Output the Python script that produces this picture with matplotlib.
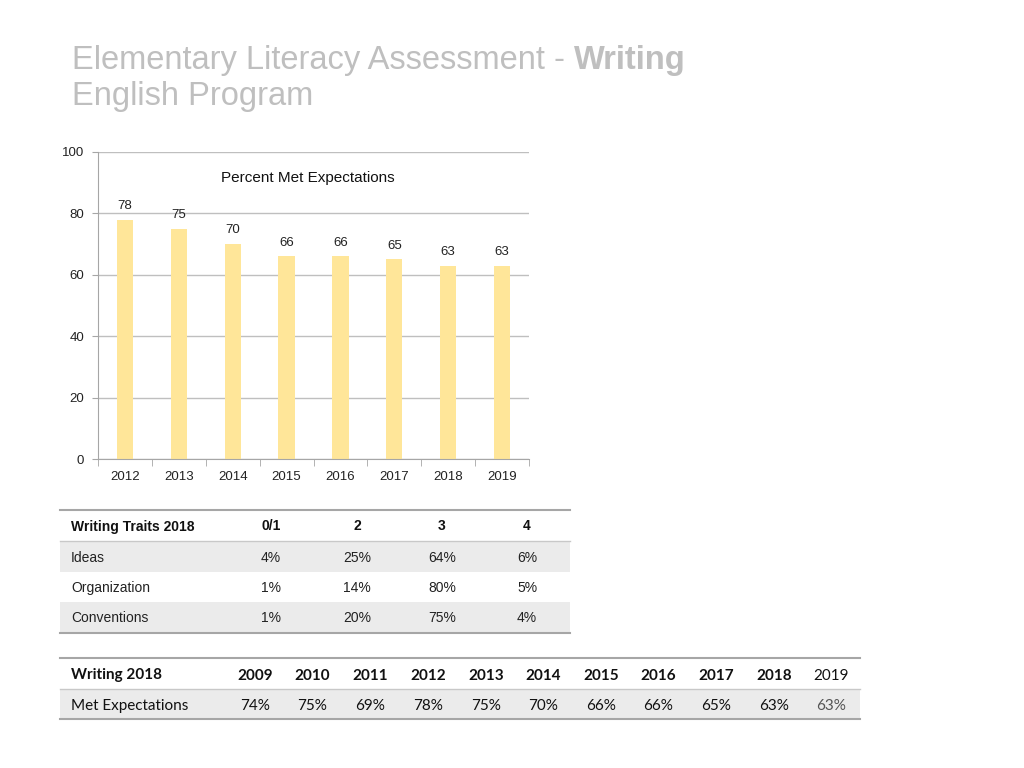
import matplotlib
matplotlib.use("Agg")
import numpy as np
from matplotlib import pyplot as plt
from matplotlib.patches import Rectangle
from matplotlib.lines import Line2D

years = ["2012", "2013", "2014", "2015", "2016", "2017", "2018", "2019"]
met = [78, 75, 70, 66, 66, 65, 63, 63]

trait_cols = ["0/1", "2", "3", "4"]
trait_rows = ["Ideas", "Organization", "Conventions"]
trait_vals = [["4%", "25%", "64%", "6%"],
              ["1%", "14%", "80%", "5%"],
              ["1%", "20%", "75%", "4%"]]

hist_years = ["2009", "2010", "2011", "2012", "2013", "2014", "2015", "2016", "2017", "2018", "2019"]
hist_vals = ["74%", "75%", "69%", "78%", "75%", "70%", "66%", "66%", "65%", "63%", "63%"]

W, H = 1024, 768
plt.rcParams['font.family'] = ['Liberation Sans', 'DejaVu Sans']
fig = plt.figure(figsize=(W / 100, H / 100), dpi=100)

def fx(x):
    return x / W

def fy(y):
    return 1 - y / H

# title
tsize = 23.5
t = fig.text(fx(72), fy(61), "Elementary Literacy Assessment - ", fontsize=tsize, color="#BFBFBF", va="center")
fig.canvas.draw()
bb = t.get_window_extent()
fig.text(bb.x1 / W, fy(61), "Writing", fontsize=tsize, color="#BFBFBF", va="center", fontweight="bold")
fig.text(fx(72), fy(96), "English Program", fontsize=tsize, color="#BFBFBF", va="center")

# bar chart
ax = fig.add_axes([fx(98), fy(459), fx(529) - fx(98), fy(152) - fy(459)])
x = np.arange(len(years))
ax.bar(x, met, width=0.3, color="#FFE699", zorder=2)
for xi, v in zip(x, met):
    ax.text(xi, v + 2.5, str(v), ha="center", va="bottom", fontsize=9.5, color="#222222")
ax.set_xlim(-0.5, len(years) - 0.5)
ax.set_ylim(0, 100)
ax.set_yticks([0, 20, 40, 60, 80, 100])
ax.set_xticks(x)
ax.set_xticklabels(years)
ax.set_xticks(np.arange(-0.5, len(years)), minor=True)
ax.tick_params(axis="x", which="major", length=0, pad=9, labelsize=9.5, colors="#222222")
ax.tick_params(axis="x", which="minor", length=5, color="#A6A6A6")
ax.tick_params(axis="y", length=4, color="#A6A6A6", labelsize=9.5, labelcolor="#222222", pad=6)
ax.grid(axis="y", color="#BFBFBF", linewidth=1, zorder=0)
for s in ["top", "right"]:
    ax.spines[s].set_visible(False)
ax.spines["left"].set_color("#A6A6A6")
ax.spines["bottom"].set_color("#A6A6A6")
ax.text(0.486, 0.915, "Percent Met Expectations", transform=ax.transAxes, ha="center", va="center",
        fontsize=11, color="#111111")

# helper for table lines / shading
def hline(y, x0, x1, color="#A6A6A6", lw=1.5):
    fig.add_artist(Line2D([fx(x0), fx(x1)], [fy(y), fy(y)], color=color, linewidth=lw))

def shade(y0, y1, x0, x1, color="#EBEBEB"):
    fig.add_artist(Rectangle((fx(x0), fy(y1)), fx(x1) - fx(x0), fy(y0) - fy(y1),
                             facecolor=color, edgecolor="none", zorder=0))

# table 1: writing traits
t1_left, t1_right = 60, 570
row_edges = [510, 541, 572, 602, 633]
col_x = [271, 357, 442, 527]
shade(row_edges[1], row_edges[2], t1_left, t1_right)
shade(row_edges[3], row_edges[4], t1_left, t1_right)
hline(row_edges[0], t1_left, t1_right)
hline(row_edges[1], t1_left, t1_right, color="#C8C8C8", lw=1)
hline(row_edges[4], t1_left, t1_right)
ymid = [(row_edges[i] + row_edges[i + 1]) / 2 + 1 for i in range(4)]
fig.text(fx(71), fy(ymid[0]), "Writing Traits 2018", fontsize=10, fontweight="bold", va="center", color="#111111")
for cx, c in zip(col_x, trait_cols):
    fig.text(fx(cx), fy(ymid[0]), c, fontsize=10, fontweight="bold", ha="center", va="center", color="#111111")
for r, (name, vals) in enumerate(zip(trait_rows, trait_vals)):
    fig.text(fx(71), fy(ymid[r + 1]), name, fontsize=10, va="center", color="#222222")
    for cx, v in zip(col_x, vals):
        fig.text(fx(cx), fy(ymid[r + 1]), v, fontsize=10, ha="center", va="center", color="#222222")

# table 2: met expectations history
t2_left, t2_right = 60, 860
edges2 = [658, 689, 719]
col2_x = [255, 312, 370, 428, 486, 543, 601, 658, 716, 774, 831]
shade(edges2[1], edges2[2], t2_left, t2_right)
hline(edges2[0], t2_left, t2_right)
hline(edges2[1], t2_left, t2_right, color="#C8C8C8", lw=1)
hline(edges2[2], t2_left, t2_right)
m0 = (edges2[0] + edges2[1]) / 2 + 2
m1 = (edges2[1] + edges2[2]) / 2 + 2
calib = ['Lato', 'DejaVu Sans']
fig.text(fx(71), fy(m0), "Writing 2018", fontsize=11, fontweight="bold", va="center", family=calib, color="#111111")
fig.text(fx(71), fy(m1), "Met Expectations", fontsize=11, va="center", family=calib, color="#111111")
for i, (cx, yr, v) in enumerate(zip(col2_x, hist_years, hist_vals)):
    last = i == len(hist_years) - 1
    fig.text(fx(cx), fy(m0), yr, fontsize=11, fontweight="normal" if last else "bold",
             ha="center", va="center", family=calib, color="#111111")
    fig.text(fx(cx), fy(m1), v, fontsize=11, ha="center", va="center", family=calib,
             color="#555555" if last else "#111111")

fig.savefig("out.png", dpi=100)
